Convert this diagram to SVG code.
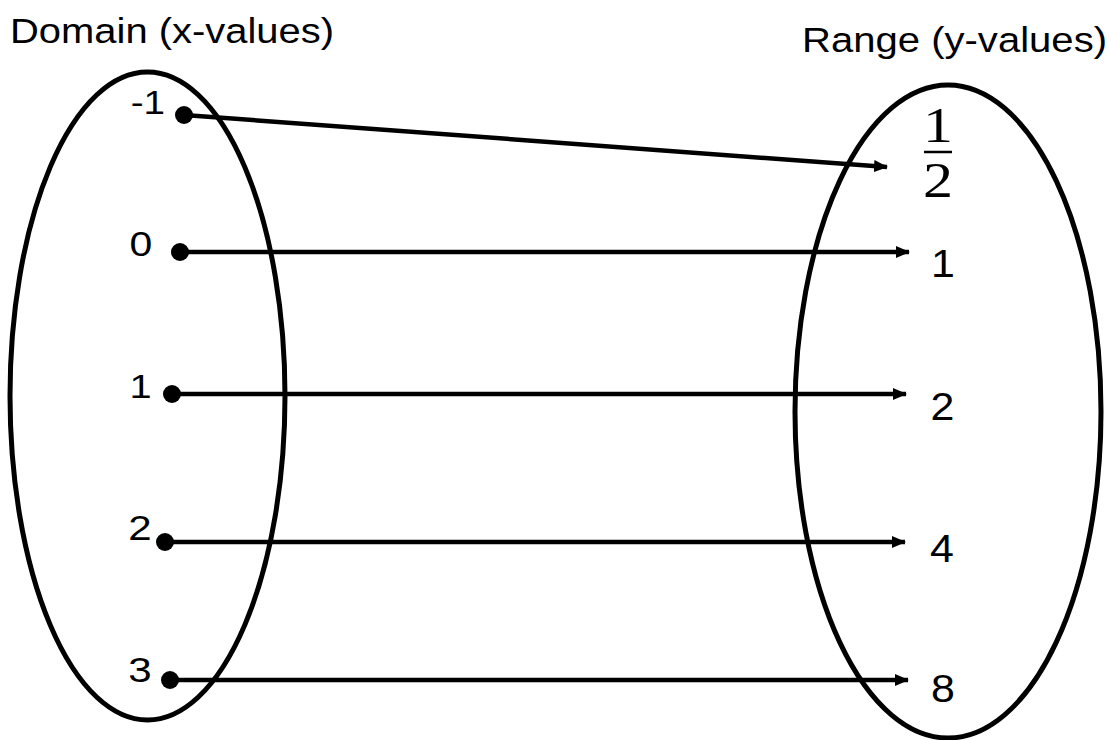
<svg xmlns="http://www.w3.org/2000/svg" width="1109" height="740" viewBox="0 0 1109 740">
<defs>
<style>
.set{fill:none;stroke:#000;stroke-width:5}
.lbl{font-family:"Liberation Sans",Arial,sans-serif;fill:#000}
.num{font-family:"Liberation Sans",Arial,sans-serif;fill:#000;text-anchor:middle}
.frac{font-family:"Liberation Serif","Times New Roman",serif;fill:#000;text-anchor:middle;font-size:50px}
.conn{stroke:#000;stroke-width:4.5;fill:none}
.dot{fill:#000}
</style>
<marker id="ah" markerUnits="userSpaceOnUse" markerWidth="14" markerHeight="12" refX="13" refY="6" orient="auto">
<path d="M0,0 L14,6 L0,12 Z" fill="#000"/>
</marker>
</defs>
<rect width="1109" height="740" fill="#fff"/>
<text class="lbl" x="10" y="43" font-size="35.5" textLength="324" lengthAdjust="spacingAndGlyphs">Domain (x-values)</text>
<text class="lbl" x="802" y="52" font-size="35.5" textLength="305" lengthAdjust="spacingAndGlyphs">Range (y-values)</text>
<g id="domain"><ellipse class="set" cx="147.5" cy="396" rx="137.5" ry="324"/></g>
<g id="range"><ellipse class="set" cx="948" cy="411.5" rx="153" ry="326.5"/></g>
<g id="x-1"><circle class="dot" cx="184" cy="115" r="9"/><text class="lbl" transform="translate(165,114) scale(1.17,1)" font-size="33" text-anchor="end">-1</text></g>
<g id="x0"><circle class="dot" cx="180" cy="252" r="9"/><text class="num" transform="translate(141,256) scale(1.17,1)" font-size="35">0</text></g>
<g id="x1"><circle class="dot" cx="172" cy="394" r="9"/><text class="num" transform="translate(140.5,398) scale(1.17,1)" font-size="34">1</text></g>
<g id="x2"><circle class="dot" cx="165" cy="542" r="9"/><text class="num" transform="translate(140,540) scale(1.17,1)" font-size="36">2</text></g>
<g id="x3"><circle class="dot" cx="170" cy="680" r="9"/><text class="num" transform="translate(140,682) scale(1.17,1)" font-size="36">3</text></g>
<g id="yhalf">
<text class="frac" transform="translate(938,142) scale(1.2,1)">1</text>
<line x1="924" y1="152" x2="952" y2="152" stroke="#000" stroke-width="2.5"/>
<text class="frac" transform="translate(938,197) scale(1.2,1)">2</text>
</g>
<g id="y1"><text class="num" transform="translate(943,277) scale(1.1,1)" font-size="39">1</text></g>
<g id="y2"><text class="num" transform="translate(942.5,420) scale(1.1,1)" font-size="39">2</text></g>
<g id="y4"><text class="num" transform="translate(942,562) scale(1.1,1)" font-size="39">4</text></g>
<g id="y8"><text class="num" transform="translate(943,702) scale(1.1,1)" font-size="39">8</text></g>
<g id="connectors">
<line class="conn" x1="184" y1="115" x2="887" y2="167" marker-end="url(#ah)"/>
<line class="conn" x1="180" y1="252" x2="909" y2="252" marker-end="url(#ah)"/>
<line class="conn" x1="172" y1="394" x2="906" y2="394" marker-end="url(#ah)"/>
<line class="conn" x1="165" y1="542" x2="905" y2="542" marker-end="url(#ah)"/>
<line class="conn" x1="170" y1="680" x2="908" y2="680" marker-end="url(#ah)"/>
</g>
</svg>
